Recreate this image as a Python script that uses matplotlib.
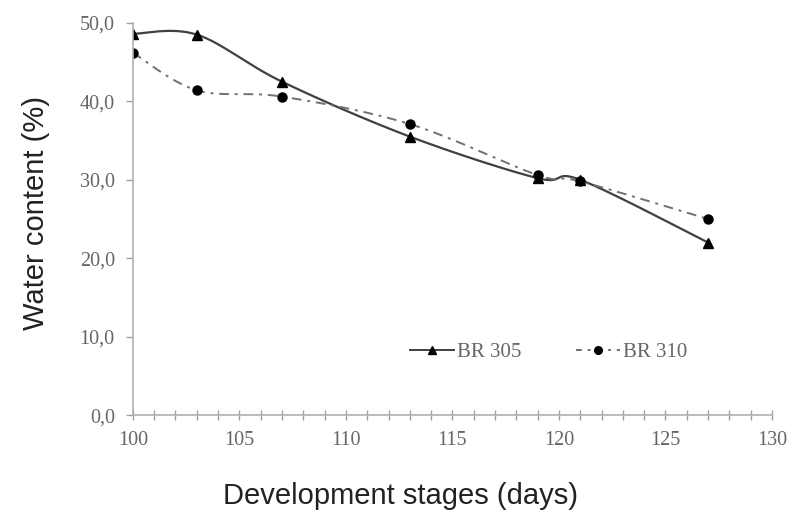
import numpy as np
import matplotlib.pyplot as plt
from matplotlib.ticker import MultipleLocator, FuncFormatter

days = [100, 103, 107, 113, 119, 121, 127]
br305 = [48.6, 48.5, 42.5, 35.5, 30.2, 30.0, 22.0]
br310 = [46.2, 41.4, 40.6, 37.1, 30.6, 29.8, 25.0]
series_names = ["BR 305", "BR 310"]


def smooth(x, y, n=30):
    """Catmull-Rom style smoothing, like Excel's smoothed lines"""
    x = np.asarray(x, float)
    y = np.asarray(y, float)
    px = np.concatenate([[x[0]], x, [x[-1]]])
    py = np.concatenate([[y[0]], y, [y[-1]]])
    xs, ys = [], []
    t = np.linspace(0, 1, n)
    for i in range(1, len(px) - 2):
        p0, p1, p2, p3 = (np.array([px[j], py[j]]) for j in range(i - 1, i + 3))
        c1 = p1 + (p2 - p0) / 6
        c2 = p2 - (p3 - p1) / 6
        b = ((1 - t) ** 3)[:, None] * p1 + (3 * (1 - t) ** 2 * t)[:, None] * c1 \
            + (3 * (1 - t) * t ** 2)[:, None] * c2 + (t ** 3)[:, None] * p2
        xs.append(b[:, 0])
        ys.append(b[:, 1])
    return np.concatenate(xs), np.concatenate(ys)


fig = plt.figure(figsize=(7.91, 5.19), dpi=100)
ax = fig.add_axes([0.168, 0.2, 0.808, 0.756])

sx, sy = smooth(days, br305)
ax.plot(sx, sy, color="#404040", lw=1.6)
sx, sy = smooth(days, br310)
ax.plot(sx, sy, color="#707070", lw=1.4, ls=(0, (5, 3, 1.5, 3)))
ax.plot(days, br305, ls="none", marker="^", ms=7, color="black")
ax.plot(days, br310, ls="none", marker="o", ms=6.5, color="black")

h1, = ax.plot([], [], color="#404040", lw=1.4, marker="^", ms=5.5, mfc="black", mec="black")
h2, = ax.plot([], [], color="#707070", lw=1.4, ls=(0, (3, 3, 1.5, 3)), marker="o", ms=5.5,
              mfc="black", mec="black")
ax.legend([h1, h2], series_names, ncol=2, frameon=False, loc="center left",
          bbox_to_anchor=(0.405, 0.16), prop={"family": "Liberation Serif", "size": 15},
          labelcolor="#666666", handlelength=2.1, handletextpad=0.15, columnspacing=2.6)

ax.set_xlim(100, 130)
ax.set_ylim(0, 50)
ax.xaxis.set_major_locator(MultipleLocator(5))
ax.xaxis.set_minor_locator(MultipleLocator(1))
ax.yaxis.set_major_locator(MultipleLocator(10))
ax.yaxis.set_major_formatter(FuncFormatter(lambda v, p: f"{v:.1f}".replace(".", ",")))

for s in ["top", "right"]:
    ax.spines[s].set_visible(False)
for s in ["left", "bottom"]:
    ax.spines[s].set_color("#b0b0b0")
    ax.spines[s].set_linewidth(1.2)

ax.tick_params(axis="x", which="both", direction="inout", color="#a0a0a0", length=7, width=1)
ax.tick_params(axis="x", which="major", pad=8)
ax.tick_params(axis="y", direction="out", color="#a0a0a0", length=5, width=1, pad=8)
ax.tick_params(labelcolor="#666666", labelsize=14.5)
for lab in ax.get_xticklabels() + ax.get_yticklabels():
    lab.set_fontfamily("Liberation Serif")

fig.text(0.506, 0.045, "Development stages (days)", fontsize=21, family="Liberation Sans",
         color="#222222", ha="center", va="center")
fig.text(0.045, 0.59, "Water content (%)", fontsize=21, family="Liberation Sans",
         color="#222222", ha="center", va="center", rotation=90)

fig.savefig("out.png", dpi=100)
